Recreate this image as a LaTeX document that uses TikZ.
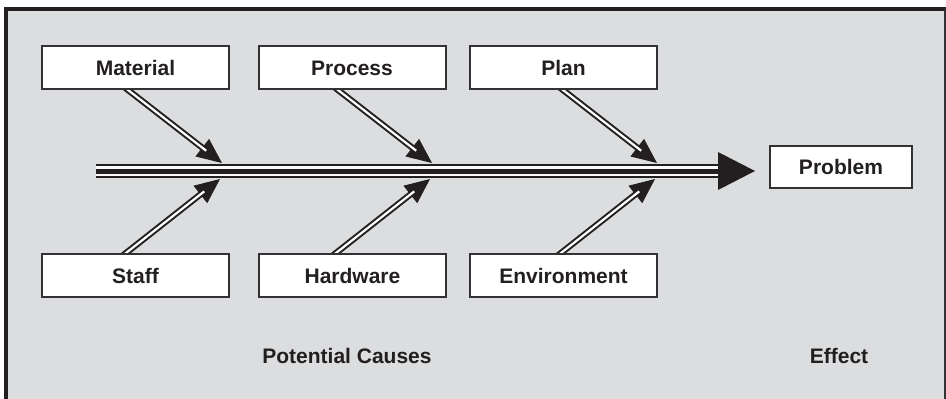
\documentclass[tikz,border=0pt]{standalone}
\usepackage{fontspec}
\setmainfont{Liberation Sans}
\usetikzlibrary{arrows.meta}
\definecolor{bg}{RGB}{220,221,223}
\definecolor{ink}{RGB}{35,31,32}
\definecolor{edge}{RGB}{50,50,52}
\pgfdeclarelayer{frame}
\pgfdeclarelayer{back}
\pgfsetlayers{frame,back,main}
\tikzset{
  box/.style={draw=edge, line width=2pt, fill=white, minimum width=187pt, minimum height=43pt,
    inner sep=0pt, text height=15pt, text depth=0pt, text=ink,
    font=\fontsize{21}{24}\selectfont\bfseries},
  label/.style={anchor=base, text=ink, inner sep=0pt, font=\fontsize{21}{24}\selectfont\bfseries},
  causetip/.style={draw=ink, line width=1pt, shorten <=-4pt, -{Triangle[length=25pt,width=22pt]}},
  causeline/.style={draw=ink, line width=2pt, double=white, double distance=2.2pt, shorten <=-4pt, shorten >=20pt},
}
\begin{document}
\begin{tikzpicture}[x=1pt,y=-1pt]
\useasboundingbox (0,0) rectangle (946,399);
\begin{pgfonlayer}{frame}
  \fill[white] (0,0) rectangle (946,399);
  \fill[bg] (6,9) rectangle (946,399);
  \draw[ink, line width=4pt] (6,399) -- (6,9) -- (946,9);
  \draw[edge, line width=2pt] (945,9) -- (945,399);
\end{pgfonlayer}

% boxes
\node[box] (m)  at (135.5,67.5) {Material};
\node[box] (p)  at (352,67.5)   {Process};
\node[box] (pl) at (563.5,67.5) {Plan};
\node[box] (s)  at (135.5,275.5) {Staff};
\node[box] (h)  at (352.5,275.5) {Hardware};
\node[box] (e)  at (563.5,275.5) {Environment};
\node[box, minimum width=142pt, minimum height=42pt] (prob) at (841,167) {Problem};

\node[label] (pc) at (347,363) {Potential Causes};
\node[label] (ef) at (839,363) {Effect};

% spine
\coordinate (tail) at (96,171);
\coordinate (head) at (720,171);
\begin{pgfonlayer}{back}
  \draw[ink, line width=13.4pt] (tail) -- (head);
  \draw[white!85!bg, line width=9.6pt] (tail) -- (head);
  \draw[ink, line width=5pt] (tail) -- (head);
  \fill[ink] (718,152) -- (755,171) -- (718,190) -- cycle;

  % cause arrows
  \coordinate (tm)  at (222,163);
  \coordinate (tp)  at (432,163);
  \coordinate (tpl) at (657,163);
  \coordinate (ts)  at (220,179);
  \coordinate (th)  at (430,179);
  \coordinate (te)  at (655,179);
  \draw[causetip] ([xshift=-7.5pt]m.south) -- (tm);
  \draw[causeline] ([xshift=-7.5pt]m.south) -- (tm);
  \draw[causetip] ([xshift=-14pt]p.south) -- (tp);
  \draw[causeline] ([xshift=-14pt]p.south) -- (tp);
  \draw[causetip] ([xshift=-0.5pt]pl.south) -- (tpl);
  \draw[causeline] ([xshift=-0.5pt]pl.south) -- (tpl);
  \draw[causetip] ([xshift=-9.5pt]s.north) -- (ts);
  \draw[causeline] ([xshift=-9.5pt]s.north) -- (ts);
  \draw[causetip] ([xshift=-16.5pt]h.north) -- (th);
  \draw[causeline] ([xshift=-16.5pt]h.north) -- (th);
  \draw[causetip] ([xshift=-2.5pt]e.north) -- (te);
  \draw[causeline] ([xshift=-2.5pt]e.north) -- (te);
\end{pgfonlayer}
\end{tikzpicture}
\end{document}
